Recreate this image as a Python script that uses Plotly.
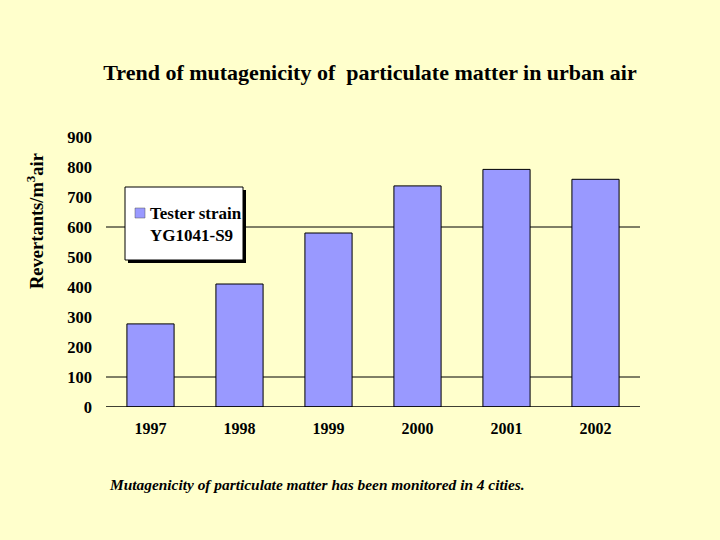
import plotly.graph_objects as go

years = ["1997", "1998", "1999", "2000", "2001", "2002"]
values = [277, 410, 580, 737, 792, 759]
y_ticks = [0, 100, 200, 300, 400, 500, 600, 700, 800, 900]
grid_values = [100, 600]
series_name = "Tester strain<br>YG1041-S9"

BG = "#FFFFCC"
BAR = "#9999FF"
SERIF = "Liberation Serif, Times New Roman, serif"

fig = go.Figure()
fig.add_trace(go.Bar(
    x=years, y=values, name=series_name,
    marker=dict(color=BAR, line=dict(color="#000000", width=1)),
    showlegend=False,
))


def px_x(p):
    return (p - 106) / 534.0


def px_y(p):
    return (407 - p) / 270.0


shapes = []
for g in grid_values:
    shapes.append(dict(type="line", xref="paper", yref="y", x0=0, x1=1, y0=g, y1=g,
                       line=dict(color="#000000", width=1), layer="below"))
shapes.append(dict(type="line", xref="paper", yref="y", x0=0, x1=1, y0=0, y1=0,
                   line=dict(color="#000000", width=1.5), layer="above"))

# legend box with shadow
shapes.append(dict(type="rect", xref="paper", yref="paper",
                   x0=px_x(128), x1=px_x(246), y0=px_y(263), y1=px_y(190),
                   fillcolor="#000000", line=dict(width=0), layer="below"))
shapes.append(dict(type="rect", xref="paper", yref="paper",
                   x0=px_x(125), x1=px_x(243), y0=px_y(260), y1=px_y(187),
                   fillcolor="#FFFFFF", line=dict(color="#000000", width=1), layer="below"))
# legend swatch
shapes.append(dict(type="rect", xref="paper", yref="paper",
                   x0=px_x(135), x1=px_x(145), y0=px_y(218), y1=px_y(208),
                   fillcolor=BAR, line=dict(color="#555555", width=0.5), layer="above"))

fig.update_layout(
    width=720, height=540,
    paper_bgcolor=BG, plot_bgcolor=BG,
    margin=dict(l=106, r=80, t=137, b=133),
    bargap=0.47,
    shapes=shapes,
    font=dict(family=SERIF, color="#000000"),
    title=dict(text="<b>Trend of mutagenicity of  particulate matter in urban air</b>",
               x=370/720, xanchor="center", y=1 - 72/540, yanchor="middle",
               font=dict(size=22, family=SERIF)),
    xaxis=dict(showgrid=False, showline=False, zeroline=False,
               tickvals=years, ticktext=["<b>%s</b>" % y for y in years],
               tickfont=dict(size=16, family=SERIF), ticklabelstandoff=10),
    yaxis=dict(range=[0, 900], tickvals=y_ticks,
               ticktext=["<b>%d</b>" % v for v in y_ticks],
               showgrid=False, showline=False, zeroline=False,
               tickfont=dict(size=16.5, family=SERIF), ticklabelstandoff=13),
    annotations=[
        dict(text="<b>Revertants/m<sup>3</sup>air</b>", xref="paper", yref="paper",
             x=px_x(35), y=px_y(221), textangle=-90, showarrow=False,
             xanchor="center", yanchor="middle", font=dict(size=18.5, family=SERIF)),
        dict(text="<b>" + series_name + "</b>", xref="paper", yref="paper",
             x=px_x(148), y=px_y(224), showarrow=False, align="left",
             xanchor="left", yanchor="middle", font=dict(size=17, family=SERIF)),
        dict(text="<b><i>Mutagenicity of particulate matter has been monitored in 4 cities.</i></b>",
             xref="paper", yref="paper", x=px_x(107), y=px_y(485), showarrow=False,
             xanchor="left", yanchor="middle", font=dict(size=15.4, family=SERIF)),
    ],
)

fig.write_html("out.html", post_script="document.body.style.margin='0';",
               config={"displayModeBar": False})
